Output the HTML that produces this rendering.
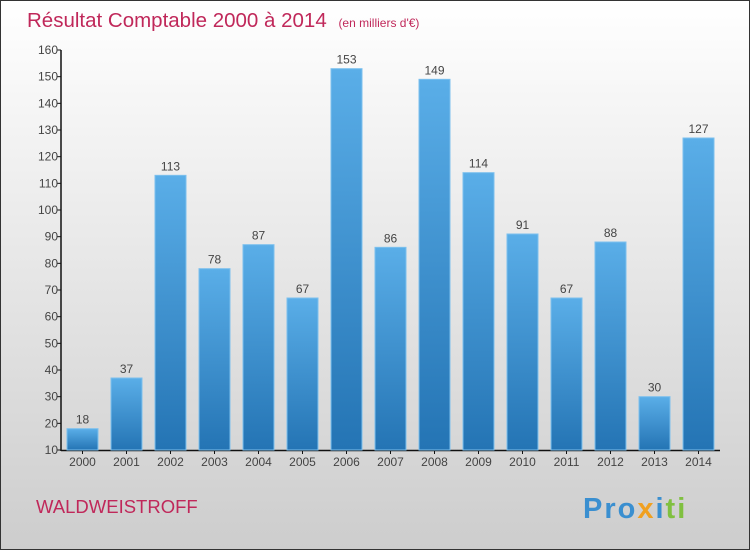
<!DOCTYPE html>
<html><head><meta charset="utf-8"><style>
body{margin:0}
svg text{font-family:"Liberation Sans",sans-serif}
</style></head><body>
<svg width="750" height="550" viewBox="0 0 750 550" id="chart">
<defs>
<linearGradient id="bg" x1="0" y1="0" x2="0" y2="1"><stop offset="0" stop-color="#ffffff"/><stop offset="1" stop-color="#cdcdcd"/></linearGradient>
<linearGradient id="bar" x1="0" y1="0" x2="0" y2="1"><stop offset="0" stop-color="#5aaee8"/><stop offset="1" stop-color="#2474b4"/></linearGradient>
</defs>
<rect x="0.5" y="0.5" width="749" height="549" fill="url(#bg)" stroke="#333"/>
<text x="27" y="27" font-size="20.5" fill="#c0285a">Résultat Comptable 2000 à 2014 <tspan font-size="12" dx="6">(en milliers d'€)</tspan></text>
<g id="axes"></g>
<g id="bars"></g>
<text x="36" y="513" font-size="18.5" fill="#c0285a">WALDWEISTROFF</text>
<text x="583" y="518" font-size="29" font-weight="bold" letter-spacing="2"><tspan fill="#3a8fd0">Pro</tspan><tspan fill="#f0a020">x</tspan><tspan fill="#3a8fd0">i</tspan><tspan fill="#80c040">ti</tspan></text>
</svg>
<script>
const categories=["2000","2001","2002","2003","2004","2005","2006","2007","2008","2009","2010","2011","2012","2013","2014"];
const values=[18,37,113,78,87,67,153,86,149,114,91,67,88,30,127];
const ticks=[10,20,30,40,50,60,70,80,90,100,110,120,130,140,150,160];
const NS="http://www.w3.org/2000/svg";
const y=v=>450-(v-10)*400/150;
const x=i=>82.5+i*44;
function mk(t,a,p){const e=document.createElementNS(NS,t);for(const k in a)e.setAttribute(k,a[k]);p.appendChild(e);return e;}
const ax=document.getElementById('axes'),bs=document.getElementById('bars');
let l=mk('line',{x1:61,y1:50,x2:61,y2:451,stroke:'#111','stroke-width':1.5},ax);


l=mk('line',{x1:61,y1:450.5,x2:720,y2:450.5,stroke:'#111','stroke-width':1.5},ax);


ticks.forEach(t=>{
 const tk=mk('line',{x1:57,x2:61,y1:y(t),y2:y(t),stroke:'#111'},ax);
 
 
 const tx=mk('text',{x:58,y:y(t)+4,'font-size':12,fill:'#444','text-anchor':'end'},ax);
 tx.textContent=t;
 
 
});
categories.forEach((c,i)=>{
 const r=mk('rect',{x:x(i)-15.5,y:y(values[i]),width:31,height:450-y(values[i]),fill:'url(#bar)',stroke:'#7cc0ee','stroke-width':1},bs);
 
 
 const v=mk('text',{x:x(i),y:y(values[i])-5,'font-size':12,fill:'#444','text-anchor':'middle'},bs);
 v.textContent=values[i];
 
 
 const tk=mk('line',{x1:x(i),x2:x(i),y1:450,y2:454,stroke:'#111'},ax);
 
 
 const t=mk('text',{x:x(i),y:466,'font-size':12,fill:'#444','text-anchor':'middle'},ax);
 t.textContent=c;
 
 
});
</script>
</body></html>
